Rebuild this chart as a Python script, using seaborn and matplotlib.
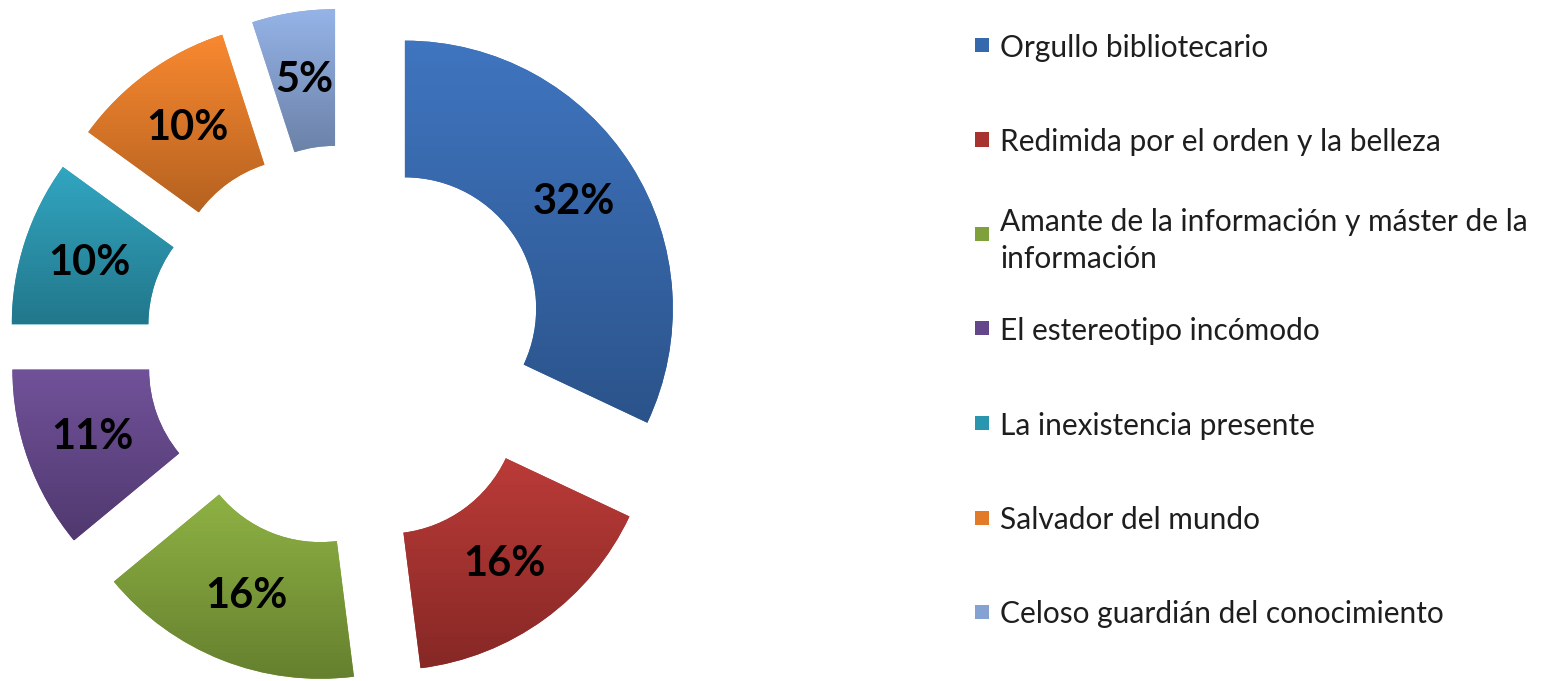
import numpy as np
import seaborn as sns
import matplotlib
matplotlib.use("Agg")
import matplotlib.pyplot as plt
from matplotlib.patches import Rectangle
from matplotlib.colors import to_rgb

categories = [
    "Orgullo bibliotecario",
    "Redimida por el orden y la belleza",
    "Amante de la información y máster de la\ninformación",
    "El estereotipo incómodo",
    "La inexistencia presente",
    "Salvador del mundo",
    "Celoso guardián del conocimiento",
]
shares = [32, 16, 16, 11, 10, 10, 5]
colors = ["#3668AD", "#A8322F", "#7FA03A", "#64478A", "#2A95AE", "#E27A28", "#86A2D2"]

sns.set_theme(style="white")
plt.rcParams["font.family"] = ["Lato", "DejaVu Sans"]

fig = plt.figure(figsize=(15.43, 6.81), dpi=100)
# donut axes: 1 data unit ~ 268 px, centre at (346, 346) px
R_PX = 268
cx, cy = 346, 346
lim = 1.3
size = 2 * lim * R_PX
ax = fig.add_axes([(cx - size / 2) / 1543, (681 - cy - size / 2) / 681,
                   size / 1543, size / 681])

palette = sns.color_palette(colors)
wedges, texts, autotexts = ax.pie(
    shares, colors=palette, startangle=90, counterclock=False,
    explode=[0.26] * len(shares), radius=1.0,
    wedgeprops=dict(width=0.51, linewidth=0),
    autopct="%.0f%%", pctdistance=0.745,
    textprops=dict(fontsize=30, fontweight="bold", color="black"),
)

# vertical gradient inside each wedge, lighter on top, darker below
for w, c in zip(wedges, palette):
    base = np.array(to_rgb(c))
    top = np.clip(base * 1.08 + 0.02, 0, 1)
    bottom = base * 0.80
    t = np.linspace(0, 1, 256)[:, None]
    grad = (bottom[None, :] * (1 - t) + top[None, :] * t)[:, None, :]
    x0, y0, x1, y1 = w.get_path().get_extents().extents
    im = ax.imshow(grad, extent=(x0, x1, y0, y1), origin="lower",
                   aspect="auto", interpolation="bilinear", zorder=w.get_zorder())
    im.set_clip_path(w)

for t in autotexts:
    t.set_zorder(5)

ax.set_xlim(-lim, lim)
ax.set_ylim(-lim, lim)
ax.set_aspect("equal")
ax.axis("off")

# legend on the right, one row per category
y0_px, step_px = 45, 94.5
for i, (lab, c) in enumerate(zip(categories, palette)):
    y = 1 - (y0_px + i * step_px) / 681
    fig.add_artist(Rectangle((975 / 1543, y - 7 / 681), 14 / 1543, 14 / 681,
                             transform=fig.transFigure, facecolor=c,
                             edgecolor="none"))
    fig.text(1000 / 1543, y, lab, fontsize=21.5, color="#1e1e1e",
             va="center_baseline", ha="left", linespacing=1.35)

fig.savefig("out.png", dpi=100)
